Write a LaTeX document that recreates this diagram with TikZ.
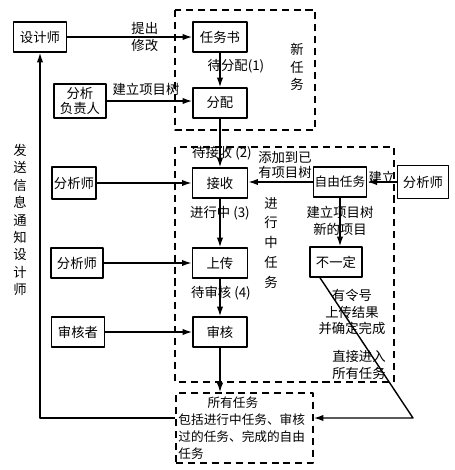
\documentclass[tikz,border=0pt]{standalone}
\usepackage{fontspec}
\newfontfamily\cjk{Noto Sans CJK SC}
\usetikzlibrary{arrows.meta}
\begin{document}
\begin{tikzpicture}[x=0.025cm,y=-0.025cm,>={Latex[length=2.4mm,width=1.6mm]},
		font=\cjk\fontsize{9.5}{11}\selectfont, line join=round,
		box/.style={draw,line width=1.1pt,inner sep=1pt,minimum height=0.75cm},
		area/.style={draw,line width=1pt,dash pattern=on 5pt off 3.5pt},
		link/.style={->,line width=1pt},
		vtext/.style={align=center,font=\cjk\fontsize{9.5}{#1pt}\selectfont}]
	\useasboundingbox (0,0) rectangle (455,470);
	% dashed groups
	\draw[area] (175,10) rectangle (315,130);
	\draw[area] (175,147) rectangle (394,382);
	\node[vtext=12.4] (newLbl) at (297,67) {新\\任\\务};
	\node[vtext=14.2] (runLbl) at (271,243) {进\\行\\中\\任\\务};
	\node[vtext=12.4] (sendLbl) at (20,220) {发\\送\\信\\息\\通\\知\\设\\计\\师};
	% boxes
	\node[box,minimum width=1.33cm] (designer) at (40,37) {设计师};
	\node[box,minimum width=1.35cm] (taskbook) at (220,37) {任务书};
	\node[box,minimum width=1.35cm] (assign) at (220,103) {分配};
	\node[box,minimum width=1.3cm,minimum height=0.85cm,vtext=10.5] (leader) at (80,101) {分析\\负责人};
	\node[box,minimum width=1.38cm] (receive) at (220,183) {接收};
	\node[box,minimum width=1.1cm,minimum height=0.8cm] (analystA) at (74,183) {分析师};
	\node[box,minimum width=1.38cm] (upload) at (220,263) {上传};
	\node[box,minimum width=1.3cm] (analystB) at (77,263) {分析师};
	\node[box,minimum width=1.35cm] (review) at (220,332) {审核};
	\node[box,minimum width=1.33cm] (reviewer) at (78,332) {审核者};
	\node[box,minimum width=1.3cm,font=\cjk\fontsize{9}{11}\selectfont] (free) at (340,182) {自由任务};
	\node[box,minimum width=1.3cm] (unsure) at (336,262) {不一定};
	\node[box,minimum width=1.28cm,minimum height=0.83cm] (analystC) at (423,182) {分析师};
	\node[area,minimum width=3.43cm,minimum height=1.75cm,inner sep=1pt,text width=3.3cm,align=left,
		font=\cjk\fontsize{9}{12}\selectfont] (all) at (244.5,428)
		{\hspace*{2.3em}所有任务\\包括进行中任务、审核\\过的任务、完成的自由\\任务};
	% left column
	\draw[link] (designer) -- node[pos=0.62,align=center,font=\cjk\fontsize{9.5}{12.5}\selectfont] (proposeLbl) {提出\\修改} (taskbook);
	\draw[link] (taskbook) -- (assign);
	\node (waitOne) at (236,66) {待分配(1)};
	\draw[link] (leader.east) -- (leader.east -| assign.west);
	\node (buildLbl) at (146,89) {建立项目树};
	\draw[link] (assign) -- (receive);
	\node (waitTwo) at (222,153) {待接收 (2)};
	\draw[link] (analystA.east) -- (analystA.east -| receive.west);
	\draw[link] (receive) -- (upload);
	\node (runThree) at (220,213) {进行中 (3)};
	\draw[link] (analystB.east) -- (analystB.east -| upload.west);
	\draw[link] (upload) -- (review);
	\node (waitFour) at (221,293) {待审核 (4)};
	\draw[link] (reviewer.east) -- (reviewer.east -| review.west);
	\draw[link] (review.south) -- (review.south |- all.north);
	\draw[link] ([yshift=0.25cm]all.west) -| (designer.south);
	% right column
	\draw[link] (analystC) -- (free);
	\node (setLbl) at (382,177) {建立};
	\draw[link] (free.west) -- (free.west -| receive.east);
	\node[align=center,font=\cjk\fontsize{9.5}{11}\selectfont] (addLbl) at (285,165) {添加到已\\有项目树};
	\draw[link] (free.south) -- (free.south |- unsure.north);
	\node[align=center,font=\cjk\fontsize{9.5}{12}\selectfont] (newItemLbl) at (340,221) {建立项目树\\新的项目};
	\coordinate (bend) at (413,418);
	\draw[link] ([xshift=-0.4cm]unsure.south) -- (bend) -- (bend -| all.east);
	\node[align=center,font=\cjk\fontsize{9.5}{11.5}\selectfont] (doneLbl) at (352,312) {有令号\\上传结果\\并确定完成};
	\node[align=center,font=\cjk\fontsize{9.5}{12}\selectfont] (directLbl) at (359,365) {直接进入\\所有任务};
\end{tikzpicture}
\end{document}
